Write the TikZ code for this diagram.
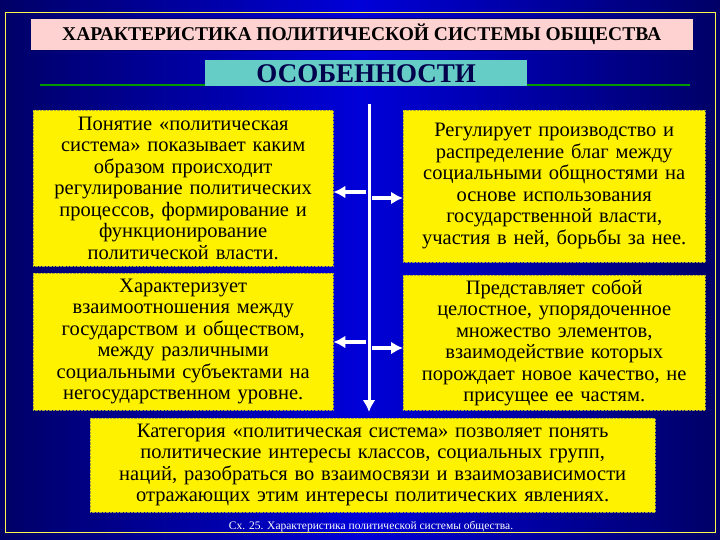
\documentclass[tikz,border=0pt]{standalone}
\usepackage{fontspec}
\setmainfont{Liberation Serif}
\begin{document}
\begin{tikzpicture}[x=1pt,y=-1pt,
  ybox/.style={fill=yellow,draw=yellow!60!black,densely dotted,align=center,inner sep=1pt,font=\fontsize{20.5}{21.5}\selectfont},
  arr/.style={white,line width=4pt,-{Latex[length=12pt,width=13pt]}}]
\usetikzlibrary{arrows.meta}
\shade[left color=blue!40!black,right color=blue!40!black,middle color=blue!85!black] (0,0) rectangle (720,540);
\draw[yellow!70!white,line width=0.8pt] (5,12) rectangle (715,532);
\node[fill=pink!70!white,draw=blue!40!black,minimum width=663,minimum height=32,anchor=north west,font=\fontsize{19.5}{21}\selectfont\bfseries,inner sep=0] (title) at (30,18) {ХАРАКТЕРИСТИКА ПОЛИТИЧЕСКОЙ СИСТЕМЫ ОБЩЕСТВА};
\draw[green!60!black,line width=2pt] (40,85) -- (690,85);
\node[fill=cyan!60!green!60!white,minimum width=322,minimum height=26,anchor=north west,font=\fontsize{27}{28}\selectfont\bfseries,inner sep=0,text=blue!30!black] (osob) at (205,60) {ОСОБЕННОСТИ};
\node[ybox,minimum width=300,minimum height=156,text width=298,anchor=north west] (tl) at (33,110) {Понятие «политическая\\система» показывает каким\\образом происходит\\регулирование политических\\процессов, формирование и\\функционирование\\политической власти.};
\node[ybox,minimum width=302,minimum height=152,text width=300,anchor=north west] (tr) at (403,110) {Регулирует производство и\\распределение благ между\\социальными общностями на\\основе использования\\государственной власти,\\участия в ней, борьбы за нее.};
\node[ybox,minimum width=300,minimum height=137,text width=298,anchor=north west] (ml) at (33,273) {Характеризует\\взаимоотношения между\\государством и обществом,\\между различными\\социальными субъектами на\\негосударственном уровне.};
\node[ybox,minimum width=302,minimum height=135,text width=300,anchor=north west] (mr) at (403,275) {Представляет собой\\целостное, упорядоченное\\множество элементов,\\взаимодействие которых\\порождает новое качество, не\\присущее ее частям.};
\node[ybox,minimum width=565,minimum height=94,text width=563,anchor=north west] (bt) at (90,418) {Категория «политическая система» позволяет понять\\политические интересы классов, социальных групп,\\наций, разобраться во взаимосвязи и взаимозависимости\\отражающих этим интересы политических явлениях.};
\coordinate (top) at (369,104);
\coordinate (bot) at (369,412);
\draw[arr,line width=3pt] (top) -- (bot);
\coordinate (a1) at (366,192); \coordinate (a2) at (372,198);
\coordinate (a3) at (366,342); \coordinate (a4) at (372,348);
\draw[arr] (a1) -- (tl.east |- a1);
\draw[arr] (a2) -- (tr.west |- a2);
\draw[arr] (a3) -- (ml.east |- a3);
\draw[arr] (a4) -- (mr.west |- a4);
\node[white,font=\fontsize{11.5}{12}\selectfont,anchor=north] (cap) at (371,518) {Сх. 25. Характеристика политической системы общества.};
\end{tikzpicture}
\end{document}
